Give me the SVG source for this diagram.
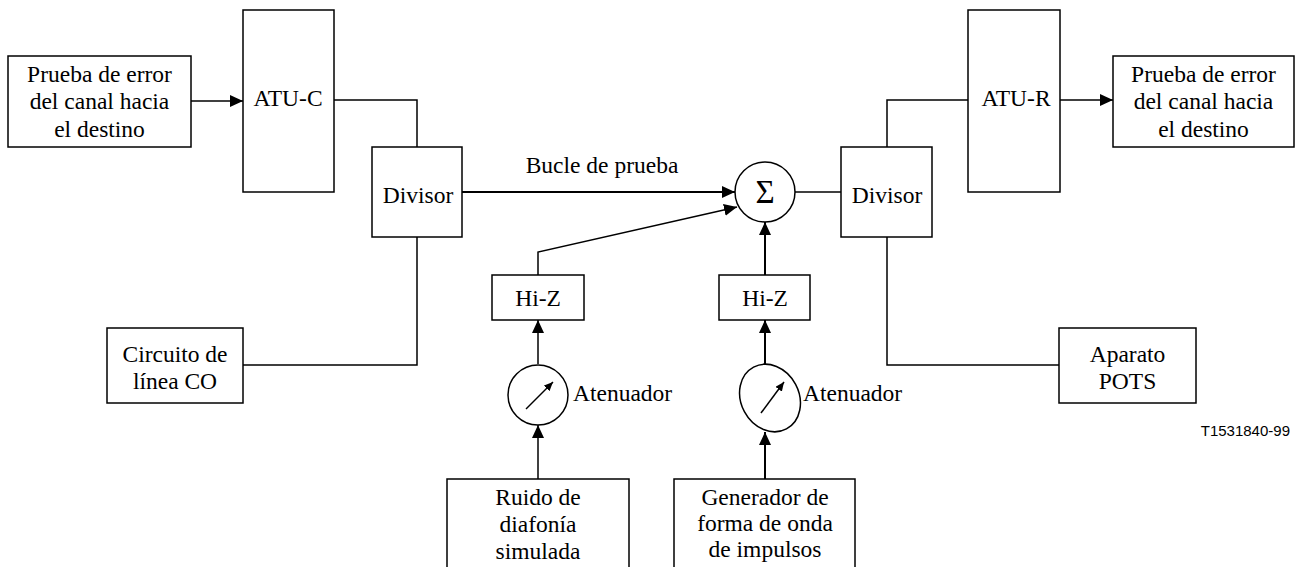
<svg xmlns="http://www.w3.org/2000/svg" width="1299" height="567" viewBox="0 0 1299 567">
<style>
.box{fill:#fff;stroke:#000;stroke-width:1.5}
.ln{fill:none;stroke:#000;stroke-width:1.5}
.t{font-family:"Liberation Serif","Times New Roman",serif;font-size:23.5px;fill:#000;text-anchor:middle}
.s{font-family:"Liberation Sans",Arial,sans-serif;font-size:15px;fill:#000;text-anchor:end}
</style>
<defs>
<marker id="ah" markerUnits="userSpaceOnUse" markerWidth="14" markerHeight="12" refX="13" refY="6" orient="auto">
<path d="M0,0 L13,6 L0,12 z" fill="#000"/>
</marker>
<marker id="sh" markerUnits="userSpaceOnUse" markerWidth="10" markerHeight="8" refX="9" refY="4" orient="auto">
<path d="M0,0 L9,4 L0,8 z" fill="#000"/>
</marker>
</defs>
<rect width="1299" height="567" fill="#fff"/>
<g id="connectors">
<line class="ln" x1="191" y1="101" x2="243" y2="101" marker-end="url(#ah)"/>
<polyline class="ln" points="334,100 417,100 417,147"/>
<polyline class="ln" points="417,237 417,365 243,365"/>
<line class="ln" x1="462" y1="192" x2="735" y2="192" style="stroke-width:2" marker-end="url(#ah)"/>
<polyline class="ln" points="538,275 538,252 737,207" marker-end="url(#ah)"/>
<line class="ln" x1="765" y1="275" x2="765" y2="222" style="stroke-width:2" marker-end="url(#ah)"/>
<line class="ln" x1="795" y1="192" x2="841" y2="192"/>
<polyline class="ln" points="887,147 887,100 968,100"/>
<line class="ln" x1="1060" y1="100" x2="1113" y2="100" marker-end="url(#ah)"/>
<polyline class="ln" points="887,237 887,365 1059,365"/>
<line class="ln" x1="538" y1="364" x2="538" y2="320" marker-end="url(#ah)"/>
<line class="ln" x1="538" y1="479" x2="538" y2="425" marker-end="url(#ah)"/>
<line class="ln" x1="765" y1="364" x2="765" y2="320" style="stroke-width:2" marker-end="url(#ah)"/>
<line class="ln" x1="765" y1="479" x2="765" y2="432" style="stroke-width:2" marker-end="url(#ah)"/>
</g>
<g id="test-left">
<rect class="box" x="8" y="56" width="183" height="91"/>
<text class="t" x="99.5" y="82">Prueba de error</text>
<text class="t" x="99.5" y="109">del canal hacia</text>
<text class="t" x="99.5" y="137">el destino</text>
</g>
<g id="atu-c">
<rect class="box" x="243" y="10" width="91" height="182"/>
<text class="t" x="288" y="106">ATU-C</text>
</g>
<g id="divisor-left">
<rect class="box" x="372" y="147" width="90" height="90"/>
<text class="t" x="418" y="203">Divisor</text>
</g>
<g id="circuito">
<rect class="box" x="107" y="328" width="136" height="75"/>
<text class="t" x="175" y="362">Circuito de</text>
<text class="t" x="175" y="389">línea CO</text>
</g>
<g id="bucle-label">
<text class="t" x="602" y="173">Bucle de prueba</text>
</g>
<g id="sigma">
<circle class="box" cx="765" cy="192" r="30"/>
<text class="t" x="765" y="203" style="font-size:33px">Σ</text>
</g>
<g id="divisor-right">
<rect class="box" x="841" y="147" width="91" height="90"/>
<text class="t" x="887" y="203">Divisor</text>
</g>
<g id="atu-r">
<rect class="box" x="968" y="10" width="92" height="182"/>
<text class="t" x="1016" y="106">ATU-R</text>
</g>
<g id="test-right">
<rect class="box" x="1113" y="56" width="181" height="91"/>
<text class="t" x="1203.5" y="82">Prueba de error</text>
<text class="t" x="1203.5" y="109">del canal hacia</text>
<text class="t" x="1203.5" y="137">el destino</text>
</g>
<g id="aparato">
<rect class="box" x="1059" y="328" width="137" height="75"/>
<text class="t" x="1127.5" y="362">Aparato</text>
<text class="t" x="1127.5" y="389">POTS</text>
</g>
<g id="hiz-1">
<rect class="box" x="492" y="275" width="92" height="45"/>
<text class="t" x="538" y="306">Hi-Z</text>
</g>
<g id="hiz-2">
<rect class="box" x="719" y="275" width="91" height="45"/>
<text class="t" x="765" y="306">Hi-Z</text>
</g>
<g id="atenuador-1">
<circle class="box" cx="538" cy="395" r="30"/>
<line class="ln" x1="526" y1="409" x2="553" y2="382" marker-end="url(#sh)"/>
<text class="t" x="573" y="401" style="text-anchor:start">Atenuador</text>
</g>
<g id="atenuador-2">
<ellipse class="box" cx="770" cy="398" rx="29" ry="35" transform="rotate(-28 770 398)"/>
<line class="ln" x1="761" y1="413" x2="784" y2="382" marker-end="url(#sh)"/>
<text class="t" x="803" y="401" style="text-anchor:start">Atenuador</text>
</g>
<g id="ruido">
<rect class="box" x="447" y="479" width="182" height="100"/>
<text class="t" x="538" y="505">Ruido de</text>
<text class="t" x="538" y="532">diafonía</text>
<text class="t" x="538" y="559">simulada</text>
</g>
<g id="generador">
<rect class="box" x="674" y="479" width="181" height="100"/>
<text class="t" x="765" y="505">Generador de</text>
<text class="t" x="765" y="531">forma de onda</text>
<text class="t" x="765" y="557">de impulsos</text>
</g>
<g id="ref-label">
<text class="s" x="1290" y="436">T1531840-99</text>
</g>
</svg>
